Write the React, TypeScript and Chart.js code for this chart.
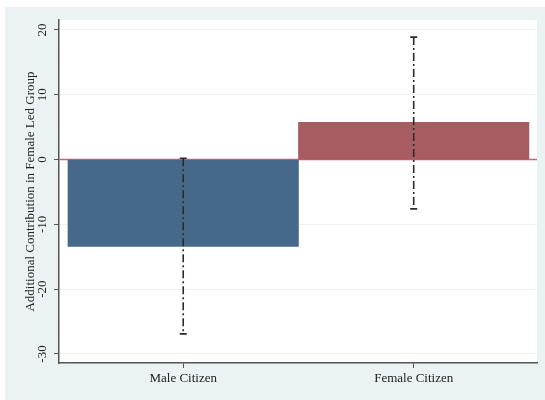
import React, { useEffect, useRef } from "react";
import { Chart, registerables } from "chart.js";

Chart.register(...registerables);

const categories = ["Male Citizen", "Female Citizen"];
const values = [-13.4, 5.75];
const ciLow = [-26.9, -7.6];
const ciHigh = [0.2, 18.9];
const yTicks = [-30, -20, -10, 0, 10, 20];
const yTitle = "Additional Contribution in Female Led Group";

const barColors = ["#46688a", "#a65c61"];
const FONT = "'Liberation Serif', 'Times New Roman', serif";

const decorPlugin = {
  id: "decor",
  beforeDraw(chart: any) {
    const { ctx, chartArea, width, height } = chart;
    ctx.save();
    ctx.fillStyle = "#ffffff";
    ctx.fillRect(0, 0, width, height);
    ctx.fillStyle = "#eaf2f3";
    ctx.fillRect(5, 7, width - 5, height - 7);
    ctx.fillStyle = "#ffffff";
    ctx.fillRect(chartArea.left, chartArea.top, chartArea.right - chartArea.left, chartArea.bottom - chartArea.top);
    ctx.restore();
  },
  beforeDatasetsDraw(chart: any) {
    const { ctx, chartArea, scales } = chart;
    const y0 = scales.y.getPixelForValue(0);
    ctx.save();
    ctx.strokeStyle = "#d4607a";
    ctx.lineWidth = 1.5;
    ctx.beginPath();
    ctx.moveTo(chartArea.left, y0);
    ctx.lineTo(chartArea.right, y0);
    ctx.stroke();
    ctx.restore();
  },
  afterDatasetsDraw(chart: any) {
    const { ctx, scales } = chart;
    ctx.save();
    ctx.strokeStyle = "#2a2a2a";
    ctx.lineWidth = 1.6;
    for (let i = 0; i < categories.length; i++) {
      const x = scales.x.getPixelForValue(i + 1);
      const yl = scales.y.getPixelForValue(ciLow[i]);
      const yh = scales.y.getPixelForValue(ciHigh[i]);
      ctx.setLineDash([8, 3, 2, 3]);
      ctx.beginPath();
      ctx.moveTo(x, yh);
      ctx.lineTo(x, yl);
      ctx.stroke();
      ctx.setLineDash([]);
      ctx.beginPath();
      ctx.moveTo(x - 3.5, yh);
      ctx.lineTo(x + 3.5, yh);
      ctx.moveTo(x - 3.5, yl);
      ctx.lineTo(x + 3.5, yl);
      ctx.stroke();
    }
    ctx.restore();
  },
  afterDraw(chart: any) {
    const { ctx, chartArea, scales } = chart;
    ctx.save();
    ctx.fillStyle = "#222";
    ctx.font = `13px ${FONT}`;
    ctx.textAlign = "center";
    ctx.textBaseline = "middle";
    for (const t of yTicks) {
      const y = scales.y.getPixelForValue(t);
      ctx.save();
      ctx.translate(43, y);
      ctx.rotate(-Math.PI / 2);
      ctx.fillText(String(t), 0, 0);
      ctx.restore();
    }
    ctx.save();
    ctx.translate(31, (chartArea.top + chartArea.bottom) / 2);
    ctx.rotate(-Math.PI / 2);
    ctx.fillText(yTitle, 0, 0);
    ctx.restore();
    ctx.restore();
  },
};

export default function App() {
  const ref = useRef<HTMLCanvasElement>(null);
  useEffect(() => {
    document.body.style.margin = "0";
    const chart = new Chart(ref.current!, {
      type: "bar",
      data: {
        datasets: [
          {
            data: values.map((v, i) => ({ x: i + 1, y: v })),
            backgroundColor: barColors,
            borderWidth: 0,
            barPercentage: 1,
            categoryPercentage: 1,
          } as any,
        ],
      },
      options: {
        animation: false,
        responsive: false,
        layout: { padding: { left: 0, top: 20, right: 8, bottom: 0 } },
        plugins: { legend: { display: false }, tooltip: { enabled: false } },
        scales: {
          x: {
            type: "linear",
            offset: false,
            min: 0.461,
            max: 2.535,
            afterBuildTicks: (s: any) => {
              s.ticks = categories.map((_, i) => ({ value: i + 1 }));
            },
            afterFit: (s: any) => {
              s.height = 37;
            },
            grid: { offset: false, drawOnChartArea: false, drawTicks: true, tickLength: 5, tickColor: "#555" },
            border: { color: "#555", width: 1.5 },
            ticks: {
              padding: 3,
              color: "#222",
              font: { family: FONT, size: 13 },
              maxRotation: 0,
              callback: (v: any) => categories[Math.round(v) - 1] ?? "",
            },
          },
          y: {
            min: -31.39,
            max: 21.54,
            afterBuildTicks: (s: any) => {
              s.ticks = yTicks.map((v) => ({ value: v }));
            },
            afterFit: (s: any) => {
              s.width = 59;
            },
            grid: { color: "#edf3f4", drawTicks: true, tickLength: 5, tickColor: "#555" },
            border: { color: "#555", width: 1.5 },
            ticks: { display: false },
          },
        },
      },
      plugins: [decorPlugin],
    } as any);
    return () => chart.destroy();
  }, []);
  return (
    <div style={{ position: "absolute", left: 0, top: 0, width: 545, height: 400 }}>
      <canvas ref={ref} width={545} height={400} />
    </div>
  );
}
